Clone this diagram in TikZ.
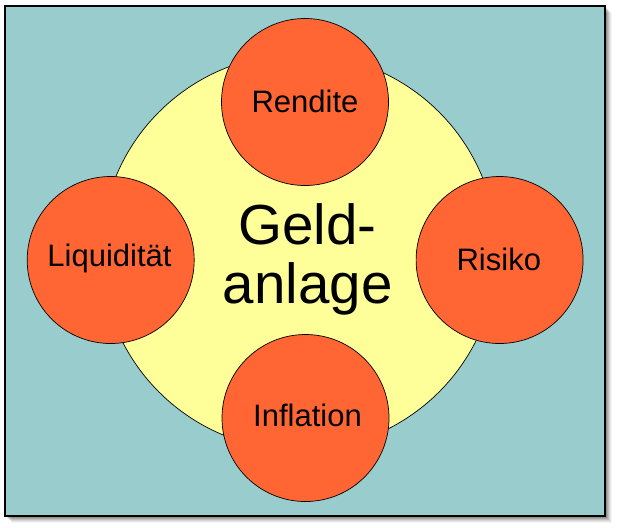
\documentclass[tikz,border=0pt]{standalone}
\usepackage{fontspec}
\setmainfont{Liberation Sans}
\definecolor{bgteal}{RGB}{153,204,204}
\definecolor{ylw}{RGB}{255,255,153}
\definecolor{org}{RGB}{255,102,51}
\begin{document}
\begin{tikzpicture}[x=1pt,y=-1pt,
  frame/.style={draw=black,line width=1.4pt,fill=bgteal},
  hub/.style={draw=black,line width=0.7pt,fill=ylw},
  factor/.style={draw=black,line width=0.7pt,fill=org},
  lbl/.style={font=\fontsize{31}{36}\selectfont,anchor=base,inner sep=0pt},
  big/.style={font=\fontsize{56.5}{59}\selectfont,anchor=base,inner sep=0pt}]
\useasboundingbox (0,0) rectangle (617,527);
% shadow
\foreach \d/\o in {7/0.04,6/0.06,5/0.08,4/0.1,3/0.12,2/0.14}{
  \fill[black,opacity=\o] (5+\d,6+\d) rectangle (605+\d,516+\d);
}
\draw[frame] (5,6) rectangle (605,516);
% central circle
\draw[hub] (299,252) circle[radius=198];
% factor circles
\draw[factor] (305,102) circle[radius=83.5];
\draw[factor] (110.7,260) circle[radius=83.5];
\draw[factor] (499.6,260) circle[radius=83.5];
\draw[factor] (305.5,418) circle[radius=83.5];
% texts
\node[lbl] (rendite) at (305,112) {Rendite};
\node[lbl] (liqu) at (109.5,266.7) {Liquidität};
\node[lbl] (risiko) at (498.8,270.7) {Risiko};
\node[lbl] (inflation) at (307.5,426.7) {Inflation};
\node[big] (geld) at (307.5,244) {Geld-};
\node[big] (anlage) at (307.7,303) {anlage};
\end{tikzpicture}
\end{document}
